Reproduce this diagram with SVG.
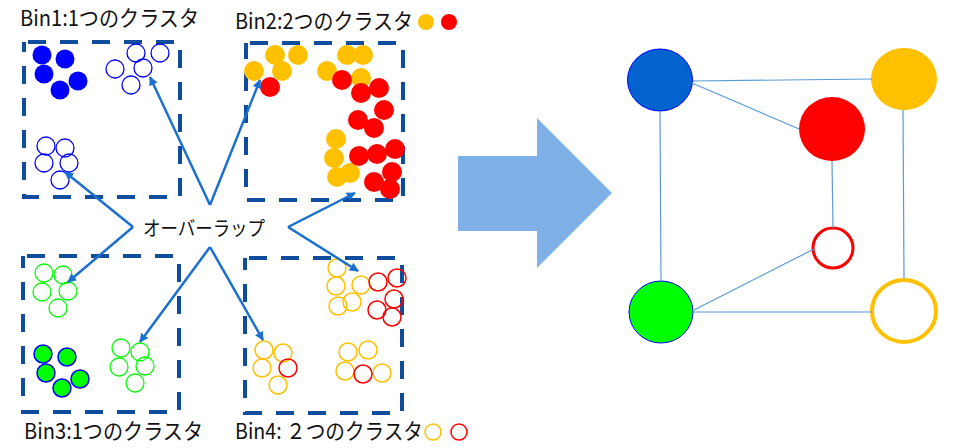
<svg xmlns="http://www.w3.org/2000/svg" width="955" height="448" viewBox="0 0 955 448">
  <defs>
    <style>
      .bin { fill: none; stroke: #0F4C9C; stroke-width: 4; stroke-dasharray: 18 14; stroke-dashoffset: -4; }
      .lbl { font-family: "Noto Sans CJK JP", "Liberation Sans", sans-serif; font-size: 22px; fill: #111; }
      .bf { fill: #0000FF; }
      .bh { fill: none; stroke: #0000FF; stroke-width: 1.3; }
      .yf { fill: #FFC000; }
      .rf { fill: #FF0000; }
      .yh { fill: none; stroke: #FFC000; stroke-width: 1.5; }
      .rh { fill: none; stroke: #FF0000; stroke-width: 1.5; }
      .gh { fill: none; stroke: #00FF00; stroke-width: 1.3; }
      .gf { fill: #00FF00; stroke: #0000FF; stroke-width: 1.5; }
      .ptr { fill: none; stroke: #1A70D0; stroke-width: 2.5; }
      .edge { stroke: #5B9BD5; stroke-width: 1.2; fill: none; }
    </style>
    <marker id="tip" viewBox="0 0 10 10" refX="9" refY="5" markerWidth="9" markerHeight="9" markerUnits="userSpaceOnUse" orient="auto">
      <path d="M0,0 L10,5 L0,10 Z" fill="#1A70D0"/>
    </marker>
  </defs>

  <!-- Bin 1 -->
  <g id="bin1">
    <rect class="bin" x="24" y="42" width="156" height="155"/>
    <text class="lbl" x="20" y="26" textLength="179" lengthAdjust="spacingAndGlyphs">Bin1:1つのクラスタ</text>
    <circle class="bf" cx="42" cy="55" r="9.5"/>
    <circle class="bf" cx="65" cy="59" r="9.5"/>
    <circle class="bf" cx="44" cy="74" r="9.5"/>
    <circle class="bf" cx="78" cy="81" r="9.5"/>
    <circle class="bf" cx="60" cy="90" r="9.5"/>
    <circle class="bh" cx="136" cy="53" r="9"/>
    <circle class="bh" cx="160" cy="53" r="9"/>
    <circle class="bh" cx="115" cy="69" r="9"/>
    <circle class="bh" cx="143" cy="68" r="9"/>
    <circle class="bh" cx="131" cy="85" r="9"/>
    <circle class="bh" cx="46" cy="146" r="9"/>
    <circle class="bh" cx="65" cy="148" r="9"/>
    <circle class="bh" cx="44" cy="163" r="9"/>
    <circle class="bh" cx="69" cy="163" r="9"/>
    <circle class="bh" cx="60" cy="180" r="9"/>
  </g>

  <!-- Bin 2 -->
  <g id="bin2">
    <rect class="bin" x="246" y="43" width="157" height="157"/>
    <text class="lbl" x="235" y="29" textLength="178" lengthAdjust="spacingAndGlyphs">Bin2:2つのクラスタ</text>
    <circle class="yf" cx="426" cy="22" r="8"/>
    <circle class="rf" cx="449" cy="22" r="8"/>
    <circle class="yf" cx="275" cy="55" r="10"/>
    <circle class="yf" cx="298" cy="55" r="10"/>
    <circle class="yf" cx="254" cy="71" r="10"/>
    <circle class="yf" cx="282" cy="71" r="10"/>
    <circle class="yf" cx="327" cy="71" r="10"/>
    <circle class="yf" cx="347" cy="55" r="10"/>
    <circle class="yf" cx="363" cy="55" r="10"/>
    <circle class="yf" cx="361" cy="78" r="10"/>
    <circle class="yf" cx="336" cy="139" r="10"/>
    <circle class="yf" cx="334" cy="158" r="10"/>
    <circle class="yf" cx="337" cy="177" r="10"/>
    <circle class="yf" cx="350" cy="173" r="10"/>
    <circle class="rf" cx="270" cy="87" r="10"/>
    <circle class="rf" cx="342" cy="80" r="10"/>
    <circle class="rf" cx="361" cy="93" r="10"/>
    <circle class="rf" cx="379" cy="88" r="10"/>
    <circle class="rf" cx="384" cy="110" r="10"/>
    <circle class="rf" cx="358" cy="120" r="10"/>
    <circle class="rf" cx="374" cy="128" r="10"/>
    <circle class="rf" cx="359" cy="156" r="10"/>
    <circle class="rf" cx="377" cy="154" r="10"/>
    <circle class="rf" cx="395" cy="149" r="10"/>
    <circle class="rf" cx="392" cy="172" r="10"/>
    <circle class="rf" cx="374" cy="182" r="10"/>
    <circle class="rf" cx="390" cy="189" r="10"/>
  </g>

  <!-- Bin 3 -->
  <g id="bin3">
    <rect class="bin" x="23" y="256" width="156" height="156"/>
    <text class="lbl" x="24" y="439" textLength="179" lengthAdjust="spacingAndGlyphs">Bin3:1つのクラスタ</text>
    <circle class="gh" cx="44" cy="273" r="9"/>
    <circle class="gh" cx="63" cy="275" r="9"/>
    <circle class="gh" cx="42" cy="292" r="9"/>
    <circle class="gh" cx="68" cy="291" r="9"/>
    <circle class="gh" cx="58" cy="308" r="9"/>
    <circle class="gh" cx="121" cy="348" r="9"/>
    <circle class="gh" cx="140" cy="352" r="9"/>
    <circle class="gh" cx="119" cy="367" r="9"/>
    <circle class="gh" cx="145" cy="366" r="9"/>
    <circle class="gh" cx="135" cy="383" r="9"/>
    <circle class="gf" cx="43" cy="354" r="9"/>
    <circle class="gf" cx="67" cy="357" r="9"/>
    <circle class="gf" cx="46" cy="373" r="9"/>
    <circle class="gf" cx="80" cy="379" r="9"/>
    <circle class="gf" cx="62" cy="388" r="9"/>
  </g>

  <!-- Bin 4 -->
  <g id="bin4">
    <rect class="bin" x="245" y="258" width="157" height="155"/>
    <text class="lbl" x="235" y="439" textLength="188" lengthAdjust="spacingAndGlyphs">Bin4: ２つのクラスタ</text>
    <circle class="yh" cx="433" cy="432" r="8"/>
    <circle class="rh" cx="459" cy="432" r="8"/>
    <circle class="yh" cx="337" cy="268" r="9"/>
    <circle class="yh" cx="336" cy="286" r="9"/>
    <circle class="yh" cx="361" cy="285" r="9"/>
    <circle class="yh" cx="338" cy="306" r="9"/>
    <circle class="yh" cx="352" cy="302" r="9"/>
    <circle class="rh" cx="378" cy="282" r="9"/>
    <circle class="rh" cx="397" cy="278" r="9"/>
    <circle class="rh" cx="394" cy="299" r="9"/>
    <circle class="rh" cx="377" cy="310" r="9"/>
    <circle class="rh" cx="392" cy="317" r="9"/>
    <circle class="yh" cx="264" cy="350" r="9"/>
    <circle class="yh" cx="283" cy="353" r="9"/>
    <circle class="yh" cx="262" cy="368" r="9"/>
    <circle class="yh" cx="278" cy="385" r="9"/>
    <circle class="rh" cx="288" cy="368" r="9"/>
    <circle class="yh" cx="348" cy="352" r="9"/>
    <circle class="yh" cx="368" cy="350" r="9"/>
    <circle class="yh" cx="345" cy="371" r="9"/>
    <circle class="yh" cx="382" cy="373" r="9"/>
    <circle class="rh" cx="363" cy="374" r="9"/>
  </g>

  <!-- Overlap label -->
  <g id="overlap">
    <text class="lbl" x="143" y="236" textLength="122" lengthAdjust="spacingAndGlyphs" style="font-size:20px">オーバーラップ</text>
  </g>

  <!-- Big transform arrow -->
  <g id="transform-arrow">
    <polygon points="458,156 537,156 537,118 612,193 537,268 537,231 458,231" fill="#7FB1E7"/>
  </g>

  <!-- Cluster graph nodes -->
  <g id="node-blue"><ellipse cx="660" cy="80" rx="32.5" ry="31" fill="#0563CF" stroke="#0000FF" stroke-width="1"/></g>
  <g id="node-yellow"><ellipse cx="904" cy="79" rx="33" ry="31" fill="#FFC000"/></g>
  <g id="node-red"><ellipse cx="832" cy="129" rx="33" ry="32" fill="#FF0000"/></g>
  <g id="node-red-hollow"><ellipse cx="833" cy="248" rx="20" ry="20" fill="#FFFFFF" stroke="#FF0000" stroke-width="3"/></g>
  <g id="node-green"><ellipse cx="661" cy="312" rx="32" ry="31" fill="#00FF00" stroke="#0000FF" stroke-width="1"/></g>
  <g id="node-yellow-hollow"><ellipse cx="904" cy="311" rx="32" ry="31" fill="#FFFFFF" stroke="#FFC000" stroke-width="4"/></g>

  <!-- Connectors -->
  <g id="connectors">
    <!-- overlap pointers -->
    <line class="ptr" x1="210" y1="205" x2="150" y2="77" marker-end="url(#tip)"/>
    <line class="ptr" x1="210" y1="205" x2="260" y2="80" marker-end="url(#tip)"/>
    <line class="ptr" x1="133" y1="227" x2="65" y2="172" marker-end="url(#tip)"/>
    <line class="ptr" x1="133" y1="227" x2="68" y2="282" marker-end="url(#tip)"/>
    <line class="ptr" x1="288" y1="227" x2="355" y2="193" marker-end="url(#tip)"/>
    <line class="ptr" x1="288" y1="227" x2="358" y2="271" marker-end="url(#tip)"/>
    <line class="ptr" x1="210" y1="247" x2="140" y2="342" marker-end="url(#tip)"/>
    <line class="ptr" x1="210" y1="247" x2="263" y2="340" marker-end="url(#tip)"/>
    <!-- graph edges -->
    <line class="edge" x1="693" y1="81" x2="872" y2="79"/>
    <line class="edge" x1="692" y1="83" x2="799" y2="129"/>
    <line class="edge" x1="660" y1="112" x2="661" y2="281"/>
    <line class="edge" x1="832" y1="161" x2="833" y2="228"/>
    <line class="edge" x1="903" y1="110" x2="904" y2="279"/>
    <line class="edge" x1="694" y1="310" x2="814" y2="249"/>
    <line class="edge" x1="693" y1="312" x2="872" y2="312"/>
  </g>
</svg>
